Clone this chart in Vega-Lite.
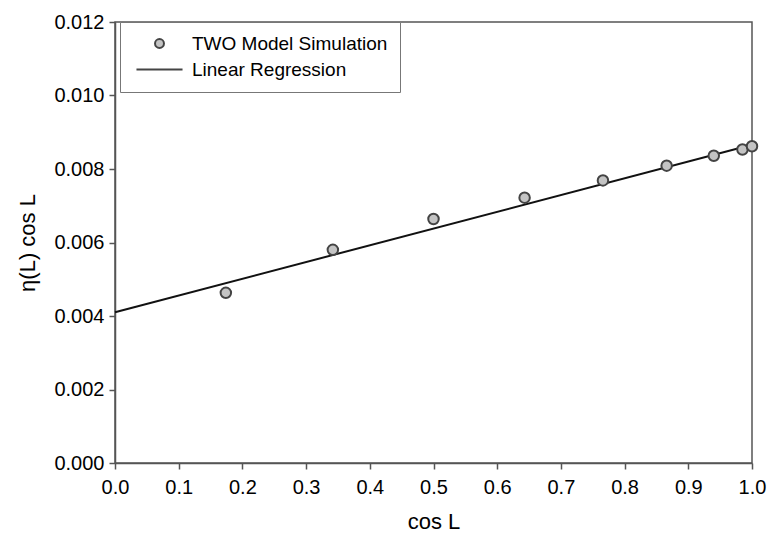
{
  "$schema": "https://vega.github.io/schema/vega-lite/v6.json",
  "width": 637,
  "height": 441,
  "autosize": {"type": "none"},
  "padding": {"left": 115, "top": 22, "right": 17, "bottom": 81},
  "background": "white",
  "config": {
    "font": "Liberation Sans",
    "view": {"stroke": "#555", "strokeWidth": 1.5},
    "axis": {
      "grid": false,
      "domainColor": "#555",
      "domainWidth": 1.5,
      "tickColor": "#555",
      "tickWidth": 1.5,
      "tickSize": 6,
      "labelFont": "Liberation Sans",
      "labelFontSize": 20,
      "labelColor": "#000",
      "labelFlush": false,
      "titleFont": "Liberation Sans",
      "titleFontSize": 22,
      "titleFontWeight": "normal",
      "titleColor": "#000"
    }
  },
  "datasets": {
    "sim": [
      {"cosL": 0.174, "eta": 0.00463, "series": "TWO Model Simulation"},
      {"cosL": 0.342, "eta": 0.00580, "series": "TWO Model Simulation"},
      {"cosL": 0.500, "eta": 0.00664, "series": "TWO Model Simulation"},
      {"cosL": 0.643, "eta": 0.00722, "series": "TWO Model Simulation"},
      {"cosL": 0.766, "eta": 0.00769, "series": "TWO Model Simulation"},
      {"cosL": 0.866, "eta": 0.00809, "series": "TWO Model Simulation"},
      {"cosL": 0.940, "eta": 0.00836, "series": "TWO Model Simulation"},
      {"cosL": 0.985, "eta": 0.00853, "series": "TWO Model Simulation"},
      {"cosL": 1.000, "eta": 0.00862, "series": "TWO Model Simulation"}
    ],
    "fit": [
      {"cosL": 0.0, "eta": 0.00410},
      {"cosL": 1.0, "eta": 0.00866}
    ]
  },
  "layer": [
    {
      "data": {"name": "fit"},
      "mark": {"type": "line", "color": "#111", "strokeWidth": 2},
      "encoding": {
        "x": {"field": "cosL", "type": "quantitative", "scale": {"domain": [0, 1]},
          "axis": {"title": "cos L", "values": [0,0.1,0.2,0.3,0.4,0.5,0.6,0.7,0.8,0.9,1.0], "format": ".1f", "labelPadding": 8, "titlePadding": 14}},
        "y": {"field": "eta", "type": "quantitative", "scale": {"domain": [0, 0.012]},
          "axis": {"title": "η(L) cos L", "values": [0,0.002,0.004,0.006,0.008,0.010,0.012], "format": ".3f", "labelPadding": 5, "titlePadding": 14}}
      }
    },
    {
      "data": {"name": "sim"},
      "mark": {"type": "point", "filled": true, "size": 110, "stroke": "#444", "strokeWidth": 2, "opacity": 1},
      "encoding": {
        "x": {"field": "cosL", "type": "quantitative"},
        "y": {"field": "eta", "type": "quantitative"},
        "color": {"field": "series", "type": "nominal",
          "scale": {"domain": ["TWO Model Simulation", "Linear Regression"], "range": ["#c4c4c4", "#111111"]},
          "legend": {
            "title": null,
            "orient": "none",
            "legendX": 5,
            "legendY": 0,
            "strokeColor": "#777",
            "fillColor": "white",
            "padding": 12,
            "labelFontSize": 19,
            "labelFont": "Liberation Sans",
            "labelColor": "#000",
            "symbolOffset": 18,
            "labelOffset": 23,
            "rowPadding": 6,
            "symbolSize": 80,
            "symbolStrokeWidth": 2,
            "labelLimit": 400,
            "encode": {"symbols": {"update": {"stroke": {"value": "#333"}}}}
          }},
        "shape": {"field": "series", "type": "nominal",
          "scale": {"domain": ["TWO Model Simulation", "Linear Regression"], "range": ["circle", "M-5.15,0H5.15"]}}
      }
    }
  ]
}
